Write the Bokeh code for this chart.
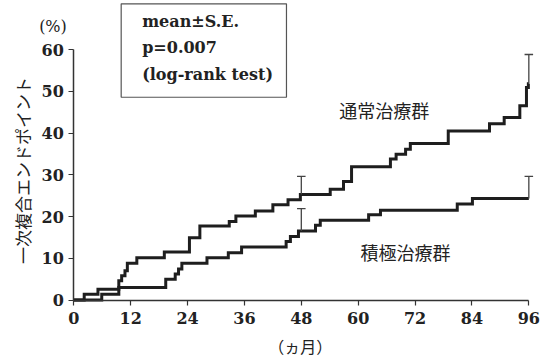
import math
from bokeh.plotting import figure
from bokeh.models import Range1d, FixedTicker, Label
from bokeh.embed import file_html
from bokeh.resources import INLINE

# ---- data ----
months_conv = [0, 2.2, 5.1, 9.5, 10.1, 10.8, 11.3, 13.3, 19.1, 24.4, 26.6, 32.8, 34.2, 38.3,
               42.0, 45.2, 47.8, 54.1, 56.9, 58.6, 66.8, 68.0, 70.0, 71.0, 79.0, 87.7, 90.8,
               94.1, 95.5, 95.9, 96]
vals_conv = [0, 1.4, 2.6, 4.6, 5.8, 7.0, 8.8, 10.1, 11.5, 14.9, 17.7, 18.8, 20.1, 21.3,
             22.8, 24.0, 25.3, 26.5, 28.4, 31.9, 33.8, 34.9, 36.1, 37.5, 40.5, 42.2, 43.7,
             46.5, 50.9, 51.8, 51.8]

months_int = [0, 5.9, 9.5, 19.4, 21.4, 22.1, 22.8, 28.1, 32.6, 35.4, 44.8, 45.7, 47.4,
              51.0, 52.0, 62.2, 64.7, 80.9, 84.1, 96]
vals_int = [0, 1.4, 3.0, 5.0, 6.2, 7.4, 8.8, 10.1, 11.3, 12.7, 14.0, 15.2, 16.5,
            17.9, 19.1, 20.4, 21.5, 23.0, 24.3, 24.3]

se_months = [48, 96]
se_upper_conv = [29.6, 58.8]
se_upper_int = [21.9, 29.6]

x_ticks = [0, 12, 24, 36, 48, 60, 72, 84, 96]
y_ticks = [0, 10, 20, 30, 40, 50, 60]

x_title = "（ヵ月）"
y_title = "一次複合エンドポイント"
y_unit = "(%)"
label_conv = "通常治療群"
label_int = "積極治療群"
stats_lines = ["mean±S.E.", "p=0.007", "(log-rank test)"]


def value_at(ts, vs, t):
    v = vs[0]
    for ti, vi in zip(ts, vs):
        if ti <= t:
            v = vi
    return v


INK = "#1e1e1e"
TXT = "#222222"
SERIF = "DejaVu Serif"
CJK = "Noto Sans CJK JP"

p = figure(width=549, height=363, x_range=Range1d(-15.46, 100.36), y_range=Range1d(-15.21, 71.74),
           output_backend="svg", toolbar_location=None,
           min_border=0, min_border_left=0, min_border_right=0, min_border_top=0,
           min_border_bottom=0)
p.outline_line_color = None
p.xgrid.visible = False
p.ygrid.visible = False
p.background_fill_color = "white"
p.border_fill_color = "white"

for ax, ticks, bnd in ((p.xaxis[0], x_ticks, (0, 96)), (p.yaxis[0], y_ticks, (0, 60))):
    ax.fixed_location = 0
    ax.ticker = FixedTicker(ticks=ticks, minor_ticks=[])
    ax.bounds = bnd
    ax.axis_line_color = "#333333"
    ax.axis_line_width = 1.5
    ax.major_tick_line_color = "#333333"
    ax.major_tick_line_width = 1.2
    ax.major_tick_in = 0
    ax.major_tick_out = 5
    ax.minor_tick_line_color = None
    ax.major_label_text_font = SERIF
    ax.major_label_text_font_style = "bold"
    ax.major_label_text_font_size = "16px"
    ax.major_label_text_color = TXT

p.xaxis[0].major_label_standoff = 7
p.yaxis[0].major_label_standoff = 5

# step curves
p.step(months_conv, vals_conv, mode="after", line_width=3, line_color=INK, line_join="miter")
p.step(months_int, vals_int, mode="after", line_width=3, line_color=INK, line_join="miter")

# S.E. bars
cap = 0.9
for ups, ts, vs in ((se_upper_conv, months_conv, vals_conv), (se_upper_int, months_int, vals_int)):
    lows = [value_at(ts, vs, m) for m in se_months]
    p.segment(x0=se_months, y0=lows, x1=se_months, y1=ups, line_color="#444444", line_width=1.3)
    p.segment(x0=[m - cap for m in se_months], y0=ups, x1=[m + cap for m in se_months], y1=ups,
              line_color="#444444", line_width=1.3)

# stats box
p.quad(left=[10.0], right=[44.87], bottom=[48.57], top=[70.95], fill_color="white",
       line_color="#555555", line_width=1.2)
for txt, yy in zip(stats_lines, [66.6, 60.4, 54.1]):
    p.add_layout(Label(x=14.43, y=yy, text=txt, text_font=SERIF,
                       text_font_style="bold", text_font_size="16px", text_color=TXT,
                       text_align="left", text_baseline="middle"))

# axis titles
p.add_layout(Label(x=-4.39, y=65.5, text=y_unit, text_font=SERIF, text_font_style="normal",
                   text_font_size="16px", text_color=TXT, text_align="center",
                   text_baseline="middle"))
p.add_layout(Label(x=-10.82, y=31.0, text=y_title, angle=math.pi / 2, text_font=CJK,
                   text_font_size="17px", text_color=TXT, text_align="center",
                   text_baseline="middle"))
p.add_layout(Label(x=47.8, y=-10.9, text=x_title, text_font=CJK, text_font_size="16px",
                   text_color=TXT, text_align="center", text_baseline="middle"))

# group labels
p.add_layout(Label(x=65.5, y=45.4, text=label_conv, text_font=CJK, text_font_size="18px",
                   text_color=TXT, text_align="center", text_baseline="middle"))
p.add_layout(Label(x=69.96, y=11.6, text=label_int, text_font=CJK, text_font_size="18px",
                   text_color=TXT, text_align="center", text_baseline="middle"))

open("out.html", "w").write(file_html(p, INLINE))
